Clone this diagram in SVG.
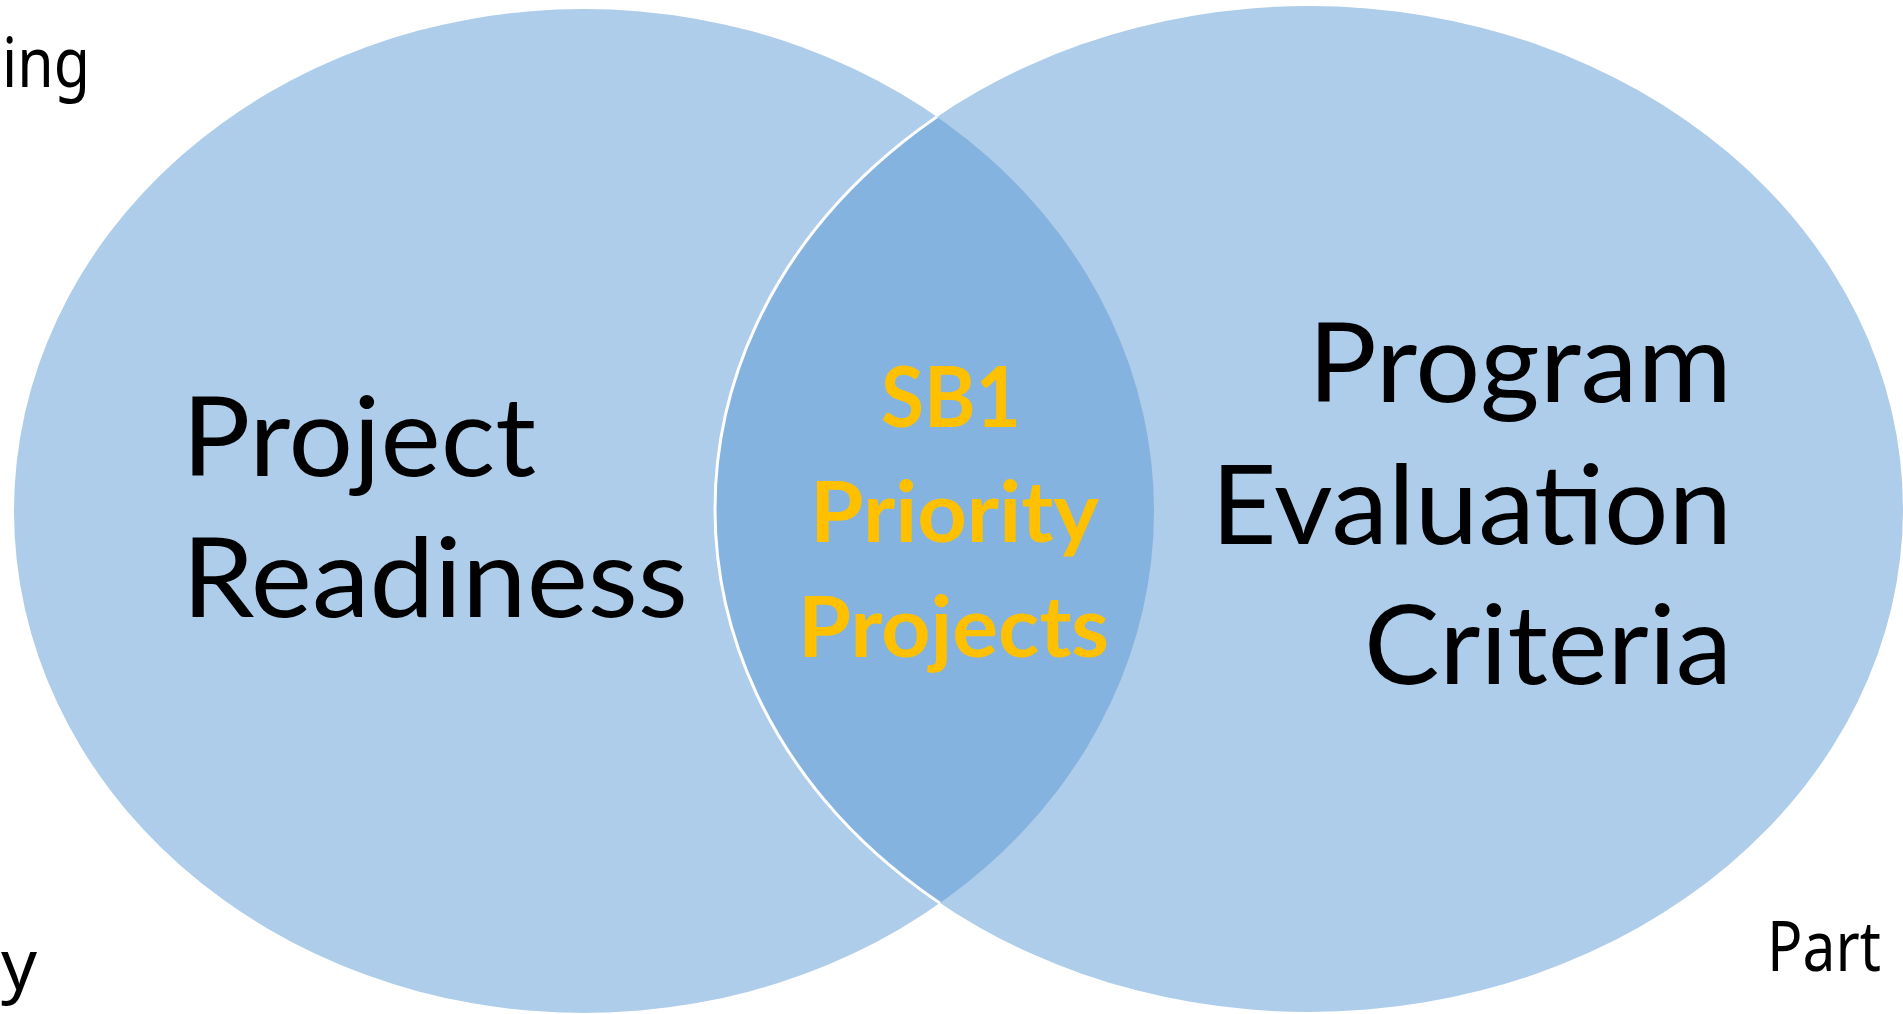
<svg xmlns="http://www.w3.org/2000/svg" width="1903" height="1014" viewBox="0 0 1903 1014">
<style>
.bg{fill:#ffffff}
.set{fill:#AECDEA}
.lens{fill:#85B3DF}
.edge{fill:none;stroke:#ffffff;stroke-width:3}
.lbl{font-family:Lato,"Liberation Sans",sans-serif;font-size:110px;fill:#000000}
.mid{font-family:Lato,"Liberation Sans",sans-serif;font-size:84px;font-weight:bold;fill:#FFC000}
.side{font-family:"Noto Sans","Liberation Sans",sans-serif;font-size:70px;fill:#000000}
</style>
<defs>
<clipPath id="clipLeft"><ellipse cx="584" cy="511" rx="570" ry="502"/></clipPath>
</defs>
<rect class="bg" x="0" y="0" width="1903" height="1014"/>
<g id="side-labels">
<text class="side" x="2" y="87" textLength="88" lengthAdjust="spacingAndGlyphs">ing</text>
<text class="side" x="1" y="989" textLength="36" lengthAdjust="spacingAndGlyphs">y</text>
<text class="side" x="1767" y="971" textLength="114" lengthAdjust="spacingAndGlyphs">Part</text>
</g>
<g id="set-project-readiness">
<ellipse class="set" cx="584" cy="511" rx="570" ry="502"/>
</g>
<g id="set-program-evaluation">
<ellipse class="set" cx="1309" cy="509" rx="594" ry="503"/>
</g>
<g id="intersection">
<ellipse class="lens" cx="1309" cy="509" rx="594" ry="503" clip-path="url(#clipLeft)"/>
<ellipse class="edge" cx="1309" cy="509" rx="594" ry="503" clip-path="url(#clipLeft)"/>
</g>
<g id="label-project-readiness">
<text class="lbl" x="182" y="476" textLength="354" lengthAdjust="spacingAndGlyphs">Project</text>
<text class="lbl" x="182" y="617" textLength="506" lengthAdjust="spacingAndGlyphs">Readiness</text>
</g>
<g id="label-program-evaluation">
<text class="lbl" x="1308" y="402" textLength="424" lengthAdjust="spacingAndGlyphs">Program</text>
<text class="lbl" x="1211" y="544" textLength="521" lengthAdjust="spacingAndGlyphs">Evaluation</text>
<text class="lbl" x="1364" y="684" textLength="368" lengthAdjust="spacingAndGlyphs">Criteria</text>
</g>
<g id="label-priority-projects">
<text class="mid" x="881" y="427" textLength="140" lengthAdjust="spacingAndGlyphs">SB1</text>
<text class="mid" x="810" y="542" textLength="289" lengthAdjust="spacingAndGlyphs">Priority</text>
<text class="mid" x="798" y="657" textLength="311" lengthAdjust="spacingAndGlyphs">Projects</text>
</g>
<g id="connectors"></g>
</svg>
